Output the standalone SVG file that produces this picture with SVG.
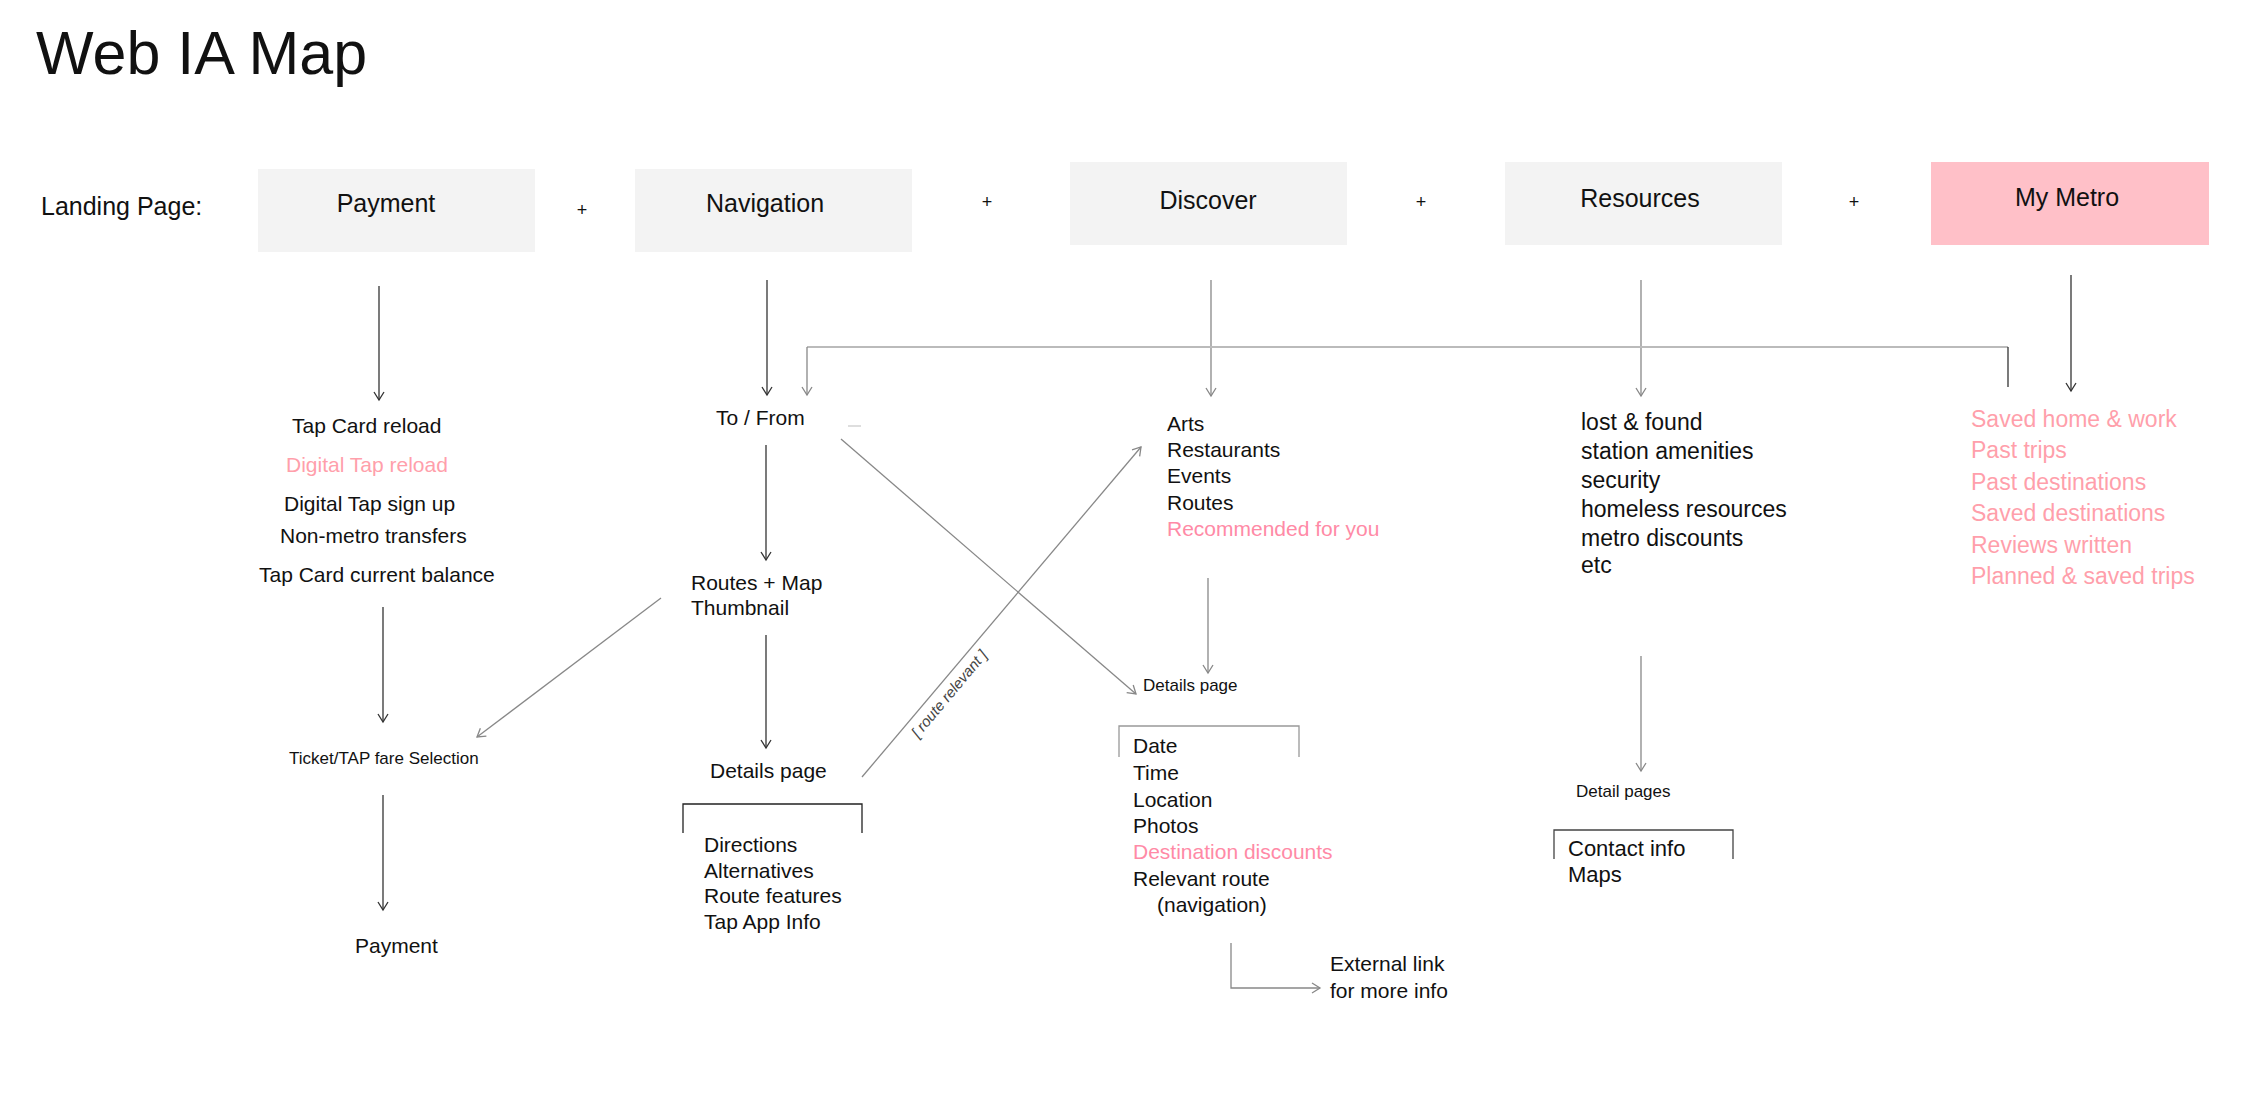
<svg xmlns="http://www.w3.org/2000/svg" width="2246" height="1103" viewBox="0 0 2246 1103">
<style>
text{font-family:"Liberation Sans",Arial,Helvetica,sans-serif;fill:#111}
.t{font-size:21px}
.s{font-size:17px}
.r{font-size:23px}
.h{font-size:25px}
.p{fill:#ff9fab}
.pp{fill:#ff8aa6}
.box{fill:#f3f3f3}
.pink{fill:#ffc0c8}
.d{stroke:#333;stroke-width:1.3;fill:none}
.g{stroke:#888;stroke-width:1.3;fill:none}
</style>
<defs>
<marker id="ad" markerUnits="userSpaceOnUse" markerWidth="14" markerHeight="14" refX="9" refY="6" orient="auto"><path d="M1,1 L9,6 L1,11" fill="none" stroke="#333" stroke-width="1.3"/></marker>
<marker id="ag" markerUnits="userSpaceOnUse" markerWidth="14" markerHeight="14" refX="9" refY="6" orient="auto"><path d="M1,1 L9,6 L1,11" fill="none" stroke="#888" stroke-width="1.3"/></marker>
</defs>
<rect width="2246" height="1103" fill="#fff"/>
<text x="36" y="74" style="font-size:61px">Web IA Map</text>
<text x="41" y="215" class="h">Landing Page:</text>
<g id="plus" style="font-size:18px">
<text x="582" y="216" text-anchor="middle">+</text>
<text x="987" y="208" text-anchor="middle">+</text>
<text x="1421" y="208" text-anchor="middle">+</text>
<text x="1854" y="208" text-anchor="middle">+</text>
</g>
<g id="payment"><rect class="box" x="258" y="169" width="277" height="83"/><text x="386" y="212" class="h" text-anchor="middle">Payment</text></g>
<g id="navigation"><rect class="box" x="635" y="169" width="277" height="83"/><text x="765" y="212" class="h" text-anchor="middle">Navigation</text></g>
<g id="discover"><rect class="box" x="1070" y="162" width="277" height="83"/><text x="1208" y="209" class="h" text-anchor="middle">Discover</text></g>
<g id="resources"><rect class="box" x="1505" y="162" width="277" height="83"/><text x="1640" y="207" class="h" text-anchor="middle">Resources</text></g>
<g id="mymetro"><rect class="pink" x="1931" y="162" width="278" height="83"/><text x="2067" y="206" class="h" text-anchor="middle">My Metro</text></g>

<g id="payment-list" class="t">
<text x="292" y="433">Tap Card reload</text>
<text x="286" y="472" class="p">Digital Tap reload</text>
<text x="284" y="511">Digital Tap sign up</text>
<text x="280" y="543">Non-metro transfers</text>
<text x="259" y="582">Tap Card current balance</text>
</g>
<g id="ticket"><text x="289" y="764" class="s">Ticket/TAP fare Selection</text></g>
<g id="payment-final"><text x="355" y="953" class="t">Payment</text></g>

<g id="tofrom"><text x="716" y="425" class="t">To / From</text></g>
<g id="routesmap" class="t"><text x="691" y="590">Routes + Map</text><text x="691" y="615">Thumbnail</text></g>
<g id="nav-details"><text x="710" y="778" class="t">Details page</text>
<path d="M683,833 V804 H862 V833" stroke="#222" stroke-width="1.3" fill="none"/>
<g class="t"><text x="704" y="852">Directions</text><text x="704" y="878">Alternatives</text><text x="704" y="903">Route features</text><text x="704" y="929">Tap App Info</text></g>
</g>

<g id="discover-list" class="t">
<text x="1167" y="431">Arts</text>
<text x="1167" y="457">Restaurants</text>
<text x="1167" y="483">Events</text>
<text x="1167" y="510">Routes</text>
<text x="1167" y="536" class="pp">Recommended for you</text>
</g>
<g id="disc-details"><text x="1143" y="691" class="s">Details page</text>
<path d="M1119,757 V726 H1299 V757" stroke="#999" stroke-width="1.3" fill="none"/>
<g class="t"><text x="1133" y="753">Date</text><text x="1133" y="780">Time</text><text x="1133" y="807">Location</text><text x="1133" y="833">Photos</text><text x="1133" y="859" class="pp">Destination discounts</text><text x="1133" y="886">Relevant route</text><text x="1157" y="912">(navigation)</text></g>
</g>
<g id="external" class="t"><text x="1330" y="971">External link</text><text x="1330" y="998">for more info</text></g>

<g id="resources-list" class="r">
<text x="1581" y="430">lost &amp; found</text>
<text x="1581" y="459">station amenities</text>
<text x="1581" y="488">security</text>
<text x="1581" y="517">homeless resources</text>
<text x="1581" y="546">metro discounts</text>
<text x="1581" y="573">etc</text>
</g>
<g id="res-details"><text x="1576" y="797" class="s">Detail pages</text>
<path d="M1554,859 V830 H1733 V859" stroke="#444" stroke-width="1.3" fill="none"/>
<g style="font-size:22px"><text x="1568" y="856">Contact info</text><text x="1568" y="882">Maps</text></g>
</g>

<g id="mymetro-list" class="r">
<text x="1971" y="427" class="p">Saved home &amp; work</text>
<text x="1971" y="458" class="p">Past trips</text>
<text x="1971" y="490" class="p">Past destinations</text>
<text x="1971" y="521" class="p">Saved destinations</text>
<text x="1971" y="553" class="p">Reviews written</text>
<text x="1971" y="584" class="p">Planned &amp; saved trips</text>
</g>

<g id="connectors">
<line class="d" x1="379" y1="286" x2="379" y2="400" marker-end="url(#ad)"/>
<line class="d" x1="383" y1="607" x2="383" y2="722" marker-end="url(#ad)"/>
<line class="d" x1="383" y1="795" x2="383" y2="910" marker-end="url(#ad)"/>
<line class="d" x1="767" y1="280" x2="767" y2="395" marker-end="url(#ad)"/>
<line class="d" x1="766" y1="445" x2="766" y2="560" marker-end="url(#ad)"/>
<line class="d" x1="766" y1="635" x2="766" y2="748" marker-end="url(#ad)"/>
<line class="g" x1="1211" y1="280" x2="1211" y2="396" marker-end="url(#ag)"/>
<line class="g" x1="1641" y1="280" x2="1641" y2="396" marker-end="url(#ag)"/>
<line class="d" x1="2071" y1="275" x2="2071" y2="391" marker-end="url(#ad)"/>
<path d="M2008,347 H807" stroke="#bbb" stroke-width="2.2" fill="none"/>
<line class="g" x1="807" y1="347" x2="807" y2="395" marker-end="url(#ag)"/>
<line class="d" x1="2008" y1="347" x2="2008" y2="387"/>
<line x1="848" y1="426" x2="861" y2="426" stroke="#ccc" stroke-width="1.3"/>
<line class="g" x1="661" y1="598" x2="477" y2="737" marker-end="url(#ag)"/>
<line class="g" x1="841" y1="439" x2="1136" y2="694" marker-end="url(#ag)"/>
<line class="g" x1="862" y1="777" x2="1141" y2="447" marker-end="url(#ag)"/>
<line class="g" x1="1208" y1="578" x2="1208" y2="673" marker-end="url(#ag)"/>
<line class="g" x1="1641" y1="656" x2="1641" y2="771" marker-end="url(#ag)"/>
<path class="g" d="M1231,943 V988 H1320" marker-end="url(#ag)"/>
<text x="0" y="0" transform="translate(953,697) rotate(-50)" text-anchor="middle" style="font-size:15px;font-style:italic;fill:#444">[ route relevant ]</text>
</g>
</svg>
